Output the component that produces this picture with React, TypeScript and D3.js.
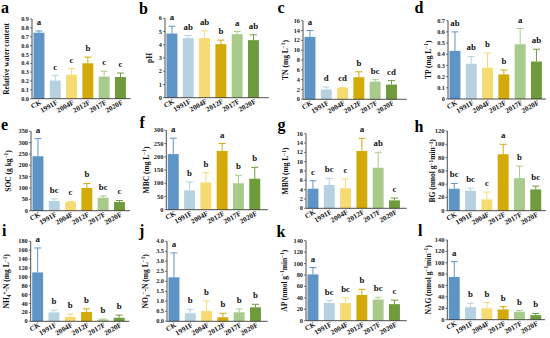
import React from 'react';
import * as d3 from 'd3';

const categories = ['CK', '1991F', '2004F', '2012F', '2017F', '2020F'];

// a Relative water content
const rwcMean = [0.745, 0.205, 0.27, 0.40, 0.25, 0.245];
const rwcErr = [0.02, 0.055, 0.07, 0.07, 0.06, 0.045];
const rwcLetters = ['a', 'c', 'c', 'b', 'c', 'c'];
// b pH
const phMean = [4.85, 4.5, 4.5, 4.05, 4.8, 4.35];
const phErr = [0.55, 0.2, 0.55, 0.3, 0.2, 0.4];
const phLetters = ['a', 'ab', 'ab', 'b', 'a', 'ab'];
// c TN
const tnMean = [12.7, 2.0, 2.3, 4.5, 3.6, 3.0];
const tnErr = [1.3, 0.5, 0.15, 1.1, 0.4, 0.8];
const tnLetters = ['a', 'd', 'cd', 'b', 'bc', 'cd'];
// d TP
const tpMean = [0.43, 0.315, 0.28, 0.22, 0.49, 0.335];
const tpErr = [0.17, 0.065, 0.13, 0.04, 0.14, 0.11];
const tpLetters = ['ab', 'ab', 'b', 'b', 'a', 'ab'];
// e SOC
const socMean = [240, 43, 38, 100, 57, 38];
const socErr = [78, 9, 3, 20, 8, 7];
const socLetters = ['a', 'bc', 'c', 'b', 'bc', 'c'];
// f MBC
const mbcMean = [210, 73, 103, 222, 100, 117];
const mbcErr = [60, 32, 37, 28, 30, 43];
const mbcLetters = ['a', 'b', 'b', 'a', 'b', 'b'];
// g MBN
const mbnMean = [4.2, 5.0, 4.3, 12.3, 8.7, 1.7];
const mbnErr = [1.7, 1.4, 2.0, 2.7, 3.3, 0.5];
const mbnLetters = ['c', 'bc', 'c', 'a', 'ab', 'c'];
// h BG
const bgMean = [33, 30, 17, 85, 49, 32];
const bgErr = [8, 4, 11, 15, 18, 5];
const bgLetters = ['bc', 'bc', 'c', 'a', 'b', 'bc'];
// i NH4+-N
const nh4Mean = [110, 20, 10, 21, 4, 8];
const nh4Err = [55, 5, 6, 7, 1, 6];
const nh4Letters = ['a', 'b', 'b', 'b', 'b', 'b'];
// j NO3--N
const no3Mean = [2.2, 0.4, 0.52, 0.2, 0.45, 0.7];
const no3Err = [1.22, 0.2, 0.5, 0.2, 0.17, 0.15];
const no3Letters = ['a', 'b', 'b', 'b', 'b', 'b'];
// k AP
const apMean = [81, 31, 31, 45, 37, 29];
const apErr = [12, 4, 9, 10, 4, 7];
const apLetters = ['a', 'bc', 'bc', 'b', 'bc', 'c'];
// l NAG
const nagMean = [75, 22, 20, 18, 14, 8];
const nagErr = [27, 7, 10, 5, 2, 3];
const nagLetters = ['a', 'b', 'b', 'b', 'b', 'b'];

const barColors = ['#5f95c6', '#b6d1df', '#f6da73', '#d3aa0a', '#a8cb8c', '#6e9b3c'];

type Seg = { t: string; sup?: boolean; sub?: boolean };

const unitL: Seg[] = [{ t: ' (mg L' }, { t: '−1', sup: true }, { t: ')' }];
const unitEnz: Seg[] = [{ t: ' (nmol g' }, { t: '−1', sup: true }, { t: 'min' }, { t: '−1', sup: true }, { t: ')' }];

type Panel = {
  label: string;
  title: Seg[];
  mean: number[];
  err: number[];
  letters: string[];
  max: number;
  step: number;
  fmt: (v: number) => string;
  ax: number; top: number; bottom: number; right: number; titleX: number;
  lx: number; ly: number;
};

const f1 = (v: number) => v.toFixed(1);
const fi = (v: number) => String(Math.round(v));
const fd = (v: number) => (v === 0 ? '0' : v.toFixed(1));

const panels: Panel[] = [
  { label: 'a', title: [{ t: 'Relative water content' }], mean: rwcMean, err: rwcErr, letters: rwcLetters, max: 0.9, step: 0.1, fmt: f1, ax: 32, top: 19, bottom: 98.7, right: 130.7, titleX: 6.5, lx: 1, ly: 12.5 },
  { label: 'b', title: [{ t: 'pH' }], mean: phMean, err: phErr, letters: phLetters, max: 6, step: 1, fmt: fi, ax: 165, top: 18.3, bottom: 97.7, right: 268.7, titleX: 149, ly: 13.5, lx: 139 },
  { label: 'c', title: [{ t: 'TN' }, ...unitL], mean: tnMean, err: tnErr, letters: tnLetters, max: 16, step: 2, fmt: fi, ax: 303, top: 20.7, bottom: 99.3, right: 406.7, titleX: 285, lx: 277.5, ly: 12.5 },
  { label: 'd', title: [{ t: 'TP' }, ...unitL], mean: tpMean, err: tpErr, letters: tpLetters, max: 0.7, step: 0.1, fmt: fd, ax: 448, top: 20.7, bottom: 99, right: 546, titleX: 428, lx: 414.5, ly: 12.5 },
  { label: 'e', title: [{ t: 'SOC (g kg' }, { t: '−1', sup: true }, { t: ')' }], mean: socMean, err: socErr, letters: socLetters, max: 350, step: 50, fmt: fi, ax: 31, top: 131.3, bottom: 210.7, right: 130, titleX: 8.3, lx: 1, ly: 129.5 },
  { label: 'f', title: [{ t: 'MBC' }, ...unitL], mean: mbcMean, err: mbcErr, letters: mbcLetters, max: 300, step: 50, fmt: fi, ax: 166.3, top: 130.3, bottom: 209.7, right: 267.7, titleX: 146.3, lx: 139.5, ly: 128 },
  { label: 'g', title: [{ t: 'MBN' }, ...unitL], mean: mbnMean, err: mbnErr, letters: mbnLetters, max: 16, step: 2, fmt: fi, ax: 306, top: 133.7, bottom: 208.3, right: 406.7, titleX: 285.7, lx: 277.5, ly: 130 },
  { label: 'h', title: [{ t: 'BG' }, ...unitEnz], mean: bgMean, err: bgErr, letters: bgLetters, max: 120, step: 20, fmt: fi, ax: 447.3, top: 131, bottom: 210.7, right: 546, titleX: 432.7, lx: 414.5, ly: 132 },
  { label: 'i', title: [{ t: 'NH' }, { t: '4', sub: true }, { t: '+', sup: true }, { t: '-N' }, ...unitL], mean: nh4Mean, err: nh4Err, letters: nh4Letters, max: 180, step: 20, fmt: fi, ax: 30.7, top: 241.3, bottom: 321.3, right: 129.3, titleX: 6.7, lx: 2, ly: 236 },
  { label: 'j', title: [{ t: 'NO' }, { t: '3', sub: true }, { t: '−', sup: true }, { t: '-N' }, ...unitL], mean: no3Mean, err: no3Err, letters: no3Letters, max: 4.0, step: 0.5, fmt: f1, ax: 167, top: 241.3, bottom: 321.3, right: 267.7, titleX: 145.3, lx: 139, ly: 236 },
  { label: 'k', title: [{ t: 'AP' }, ...unitEnz], mean: apMean, err: apErr, letters: apLetters, max: 140, step: 20, fmt: fi, ax: 306, top: 240.7, bottom: 320.7, right: 406.7, titleX: 284.3, lx: 276.5, ly: 236.5 },
  { label: 'l', title: [{ t: 'NAG' }, ...unitEnz], mean: nagMean, err: nagErr, letters: nagLetters, max: 140, step: 20, fmt: fi, ax: 447.3, top: 240, bottom: 319.7, right: 545, titleX: 428.3, lx: 418, ly: 236 },
];

const FONT = '"Liberation Serif", "Times New Roman", serif';
const STEP = 16.3;

function Title({ segs, x, y, size }: { segs: Seg[]; x: number; y: number; size: number }) {
  const small = size * 0.7;
  const parts: React.ReactNode[] = [];
  let shift = 0;
  segs.forEach((s, i) => {
    let target = 0;
    if (s.sup) target = -size * 0.38;
    if (s.sub) target = size * 0.2;
    const dy = target - shift;
    shift = target;
    parts.push(
      <tspan key={i} dy={dy} fontSize={s.sup || s.sub ? small : size}>{s.t}</tspan>
    );
  });
  return (
    <text transform={`translate(${x},${y}) rotate(-90)`} textAnchor="middle" fontFamily={FONT} fontWeight="bold" fontSize={size} fill="#111">
      {parts}
    </text>
  );
}

function PanelView({ p }: { p: Panel }) {
  const y = d3.scaleLinear().domain([0, p.max]).range([p.bottom, p.top]);
  const x = d3.scaleBand<string>()
    .domain(categories)
    .range([p.ax + 1.5, p.ax + 1.5 + STEP * (categories.length - 0.33)])
    .paddingInner(0.33)
    .paddingOuter(0);
  const ticks = d3.range(0, p.max + p.step / 2, p.step);
  const bw = x.bandwidth();
  return (
    <g>
      <text x={p.lx} y={p.ly} fontFamily={FONT} fontWeight="bold" fontSize={16} fill="#000">{p.label}</text>
      <Title segs={p.title} x={p.titleX + 2.7} y={(p.top + p.bottom) / 2} size={7.5} />
      {categories.map((c, i) => {
        const x0 = x(c) as number;
        const cx = x0 + bw / 2;
        const yTop = y(p.mean[i]);
        const yErr = y(p.mean[i] + p.err[i]);
        return (
          <g key={c}>
            <rect x={x0} y={yTop} width={bw} height={p.bottom - yTop} fill={barColors[i]} />
            <line x1={cx} x2={cx} y1={yTop} y2={yErr} stroke={barColors[i]} strokeWidth={1} />
            <line x1={cx - 3.5} x2={cx + 3.5} y1={yErr} y2={yErr} stroke={barColors[i]} strokeWidth={1} />
            <text x={cx} y={yErr - 6} textAnchor="middle" fontFamily={FONT} fontWeight="bold" fontSize={8.8} fill="#111">{p.letters[i]}</text>
            <text transform={`translate(${cx + 3},${p.bottom + 5}) rotate(-30)`} textAnchor="end" fontFamily={FONT} fontWeight="bold" fontSize={7.2} fill="#111">{c}</text>
          </g>
        );
      })}
      <line x1={p.ax} x2={p.ax} y1={p.top} y2={p.bottom} stroke="#222" strokeWidth={0.8} />
      <line x1={p.ax} x2={p.right} y1={p.bottom} y2={p.bottom} stroke="#222" strokeWidth={0.8} />
      {ticks.map((t) => (
        <g key={t}>
          <line x1={p.ax - 2} x2={p.ax} y1={y(t)} y2={y(t)} stroke="#222" strokeWidth={0.6} />
          <text x={p.ax - 3} y={y(t)} dy="0.33em" textAnchor="end" fontFamily={FONT} fontWeight="bold" fontSize={6.3} fill="#222">{p.fmt(t)}</text>
        </g>
      ))}
    </g>
  );
}

export default function App() {
  return (
    <svg width={550} height={338} viewBox="0 0 550 338" style={{ position: 'fixed', left: 0, top: 0, background: '#fff' }}>
      <rect width={550} height={338} fill="#fff" />
      {panels.map((p) => <PanelView key={p.label} p={p} />)}
    </svg>
  );
}
